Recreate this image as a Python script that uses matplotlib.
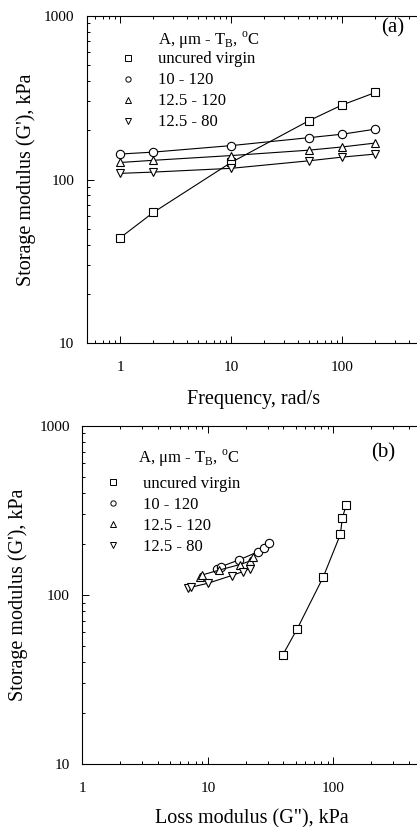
import matplotlib
matplotlib.use('Agg')
import matplotlib.pyplot as plt
from matplotlib.lines import Line2D
from matplotlib.ticker import LogLocator, FuncFormatter, NullFormatter

plt.rcParams['font.family'] = ['Liberation Serif', 'DejaVu Serif']
plt.rcParams['mathtext.fontset'] = 'custom'
plt.rcParams['mathtext.rm'] = 'Liberation Serif'

# data
freq = [1, 2, 10, 50, 100, 200]                    # rad/s
labels = ['uncured virgin', '10 - 120', '12.5 - 120', '12.5 - 80']
markers = ['s', 'o', '^', 'v']

g_storage = [
    [44, 63, 127, 228, 285, 340],     # uncured virgin
    [143, 147, 161, 180, 189, 203],   # 10 - 120
    [127, 131, 140, 151, 158, 167],   # 12.5 - 120
    [109, 111, 117, 130, 137, 143],   # 12.5 - 80
]
g_loss = [
    [39.5, 51.6, 83, 114, 118, 127],
    [11.8, 12.8, 17.8, 25.3, 28, 31],
    [8.6, 9.0, 12.3, 18, 21.5, 23],
    [7.0, 7.4, 10.0, 15.5, 19, 21.5],
]

header = r'A, μm - T$_{\rm B}$, $^{\rm o}$C'
msize = [5.5, 6, 6, 6]

fig = plt.figure(figsize=(4.17, 8.27), dpi=100)
ax_a = fig.add_axes([0.2077, 0.5849, 0.7986, 0.3961])
ax_b = fig.add_axes([0.1974, 0.0762, 0.8122, 0.4091])


def style(ax, xpad, ypad):
    ax.set_xscale('log')
    ax.set_yscale('log')
    ax.set_ylim(10, 1000)
    ax.tick_params(which='both', direction='in', top=True, right=False,
                   labelsize=11, width=0.7)
    ax.tick_params(which='major', length=5)
    ax.tick_params(which='minor', length=2.5)
    ax.tick_params(axis='x', which='major', pad=xpad)
    ax.tick_params(axis='y', which='major', pad=ypad)
    fmt = FuncFormatter(lambda v, p: f'{v:g}')
    ax.xaxis.set_major_formatter(fmt)
    ax.yaxis.set_major_formatter(fmt)
    ax.xaxis.set_minor_formatter(NullFormatter())
    ax.yaxis.set_minor_formatter(NullFormatter())
    ax.xaxis.set_minor_locator(LogLocator(subs=range(2, 10)))
    for s in ax.spines.values():
        s.set_linewidth(0.8)


def add_legend(ax, x0, y0, hx, hy):
    handles = [Line2D([], [], ls='none', marker=m, ms=3.8, mfc='white',
                      mec='black', mew=0.7) for m in markers]
    ax.legend(handles, labels, loc='upper left', bbox_to_anchor=(x0, y0),
              frameon=False, fontsize=12, handlelength=1.0, handletextpad=1.3,
              labelspacing=0.3, borderpad=0, borderaxespad=0)
    ax.text(hx, hy, header, transform=ax.transAxes, fontsize=12,
            va='baseline', ha='left')


# (a) storage modulus vs frequency
style(ax_a, 13, 9)
ax_a.set_xlim(0.5, 500)
for g, m, ms in zip(g_storage, markers, msize):
    ax_a.plot(freq, g, color='black', lw=0.8, marker=m, ms=ms,
              mfc='white', mec='black', mew=0.8)
ax_a.set_xlabel('Frequency, rad/s', fontsize=14.5, labelpad=11)
ax_a.set_ylabel("Storage modulus (G'), kPa", fontsize=14.5, labelpad=5.5)
ax_a.text(0.92, 0.962, '(a)', transform=ax_a.transAxes, fontsize=15,
          ha='center', va='center')
add_legend(ax_a, 0.0985, 0.891, 0.214, 0.911)

# (b) storage modulus vs loss modulus
style(ax_b, 13, 9)
ax_b.set_xlim(1, 500)
for gl, g, m, ms in zip(g_loss, g_storage, markers, msize):
    ax_b.plot(gl, g, color='black', lw=0.8, marker=m, ms=ms,
              mfc='white', mec='black', mew=0.8)
ax_b.set_xlabel('Loss modulus (G"), kPa', fontsize=14.5, labelpad=10)
ax_b.set_ylabel("Storage modulus (G'), kPa", fontsize=14.5, labelpad=8.5)
ax_b.text(0.888, 0.919, '(b)', transform=ax_b.transAxes, fontsize=15,
          ha='center', va='center')
add_legend(ax_b, 0.067, 0.851, 0.165, 0.891)

fig.savefig('out.png', dpi=100)
